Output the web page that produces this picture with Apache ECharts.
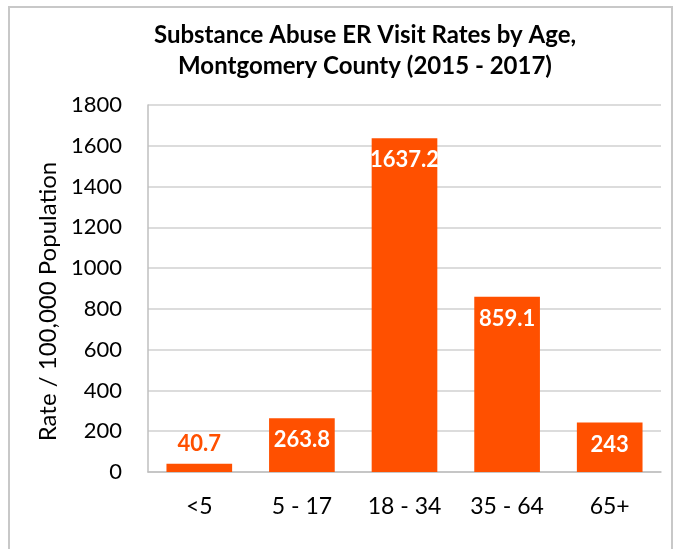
<!DOCTYPE html>
<html><head><meta charset="utf-8">
<script src="https://cdn.jsdelivr.net/npm/echarts@6/dist/echarts.min.js"></script>
<style>html,body{margin:0;padding:0;background:#fff}#c{width:678px;height:549px}</style>
</head><body><div id="c"></div>
<script>
const categories = ['<5', '5 - 17', '18 - 34', '35 - 64', '65+'];
const rates = [40.7, 263.8, 1637.2, 859.1, 243];
const yTicks = [0, 200, 400, 600, 800, 1000, 1200, 1400, 1600, 1800];
const titleLines = ['Substance Abuse ER Visit Rates by Age,', 'Montgomery County (2015 - 2017)'];
const yName = 'Rate / 100,000 Population';
const outsideLabel = [true, false, false, false, false];

const FONT = 'Lato, "Open Sans", sans-serif';
const ORANGE = '#FF5000';
const chart = echarts.init(document.getElementById('c'), null, {renderer: 'canvas'});
chart.setOption({
  animation: false,
  backgroundColor: '#fff',
  graphic: [{type: 'rect', shape: {x: 9, y: 7, width: 663, height: 560}, style: {fill: 'none', stroke: '#c8c8c8', lineWidth: 2}, silent: true}],
  title: {
    text: titleLines.join('\n'), left: 360, textAlign: 'center', top: 15,
    textStyle: {fontFamily: FONT, fontSize: 24, fontWeight: 'bold', color: '#000', lineHeight: 31}
  },
  grid: {left: 148, right: 17, top: 105, bottom: 77},
  xAxis: {
    type: 'category', data: categories,
    axisLine: {lineStyle: {color: '#bfbfbf', width: 1.5}},
    axisTick: {show: false},
    axisLabel: {fontFamily: FONT, fontSize: 23, color: '#000', margin: 23}
  },
  yAxis: {
    type: 'value', min: yTicks[0], max: yTicks[yTicks.length - 1], interval: yTicks[1] - yTicks[0],
    name: yName, nameLocation: 'middle', nameGap: 84,
    nameTextStyle: {fontFamily: FONT, fontSize: 24, color: '#000', padding: [0, 26, 0, 0]},
    axisLine: {show: true, lineStyle: {color: '#bfbfbf', width: 1.5}},
    axisTick: {show: false},
    splitLine: {lineStyle: {color: '#d0d0d0', width: 1.5}},
    axisLabel: {fontFamily: FONT, fontSize: 22, color: '#000', margin: 26, formatter: v => String(v)}
  },
  series: [{
    type: 'bar', barWidth: '64%',
    itemStyle: {color: ORANGE},
    data: rates.map((v, i) => ({
      value: v,
      label: outsideLabel[i]
        ? {show: true, position: 'top', distance: 9, color: ORANGE}
        : {show: true, position: 'insideTop', distance: 11, color: '#fff'}
    })),
    label: {fontFamily: FONT, fontSize: 22, fontWeight: 'bold'}
  }]
});
</script></body></html>
